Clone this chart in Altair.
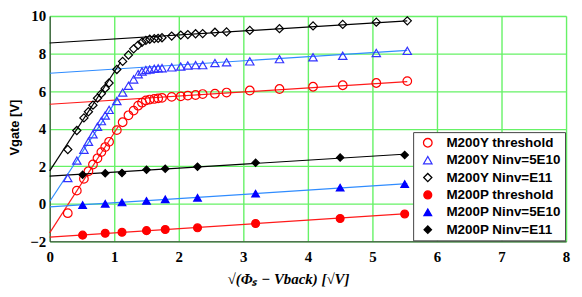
import altair as alt
import pandas as pd

# ---------------- data ----------------
series_names = [
    "M200Y threshold", "M200Y Ninv=5E10", "M200Y Ninv=E11",
    "M200P threshold", "M200P Ninv=5E10", "M200P Ninv=E11",
]

# M200Y (hollow markers) share the same x positions
y_x = [0.28, 0.42, 0.53, 0.60, 0.67, 0.74, 0.80, 0.86, 0.92, 1.04, 1.13,
       1.22, 1.30, 1.37, 1.43, 1.49, 1.55, 1.62, 1.68, 1.74, 1.89, 2.03,
       2.14, 2.26, 2.37, 2.56, 2.74, 3.10, 3.56, 4.08, 4.54, 5.06, 5.54]
y_thr = [-0.50, 0.70, 1.33, 1.73, 2.09, 2.42, 2.75, 3.02, 3.30, 3.92, 4.34,
         4.71, 4.96, 5.22, 5.38, 5.50, 5.55, 5.58, 5.61, 5.64, 5.69, 5.72,
         5.76, 5.79, 5.84, 5.86, 5.92, 6.03, 6.11, 6.23, 6.31, 6.43, 6.53]
y_5e10 = [1.37, 2.30, 2.88, 3.30, 3.70, 4.10, 4.40, 4.70, 5.00, 5.47, 5.92,
          6.28, 6.62, 6.90, 7.04, 7.12, 7.15, 7.19, 7.21, 7.22, 7.26, 7.31,
          7.36, 7.38, 7.38, 7.49, 7.53, 7.58, 7.70, 7.80, 7.88, 8.03, 8.14]
y_e11 = [2.89, 3.90, 4.57, 4.90, 5.25, 5.62, 5.86, 6.14, 6.43, 7.15, 7.58,
         7.92, 8.25, 8.45, 8.60, 8.70, 8.76, 8.79, 8.81, 8.84, 8.93, 8.98,
         9.01, 9.05, 9.06, 9.13, 9.15, 9.23, 9.32, 9.47, 9.55, 9.67, 9.74]

# M200P (filled markers)
p_x = [0.51, 0.86, 1.12, 1.50, 1.79, 2.29, 3.19, 4.50, 5.50]
p_thr = [-1.67, -1.57, -1.52, -1.43, -1.37, -1.28, -1.05, -0.78, -0.54]
p_5e10 = [-0.07, 0.00, 0.07, 0.15, 0.24, 0.32, 0.54, 0.86, 1.05]
p_e11 = [1.54, 1.62, 1.64, 1.81, 1.87, 1.97, 2.18, 2.46, 2.60]

# fitted straight lines (end points)
fit_group = ["thr", "thr", "thr", "5e10", "5e10", "5e10", "e11", "e11", "e11"]
fit_x0 = [0.0, 0.0, 0.0, 0.0, 0.0, 0.0, 0.0, 0.0, 0.0]
fit_y0 = [5.30, -1.55, -1.78, 6.95, 0.12, -0.17, 8.56, 1.75, 1.47]
fit_x1 = [5.54, 1.06, 5.54, 5.54, 1.06, 5.54, 5.54, 1.10, 5.54]
fit_y1 = [6.50, 4.10, -0.52, 8.17, 5.65, 1.07, 9.74, 7.55, 2.65]

x_ticks = [0, 1, 2, 3, 4, 5, 6, 7, 8]
y_ticks = [-2, 0, 2, 4, 6, 8, 10]

# ---------------- tables ----------------
rows = []
for name, ys in zip(series_names[:3], [y_thr, y_5e10, y_e11]):
    for xv, yv in zip(y_x, ys):
        rows.append({"series": name, "x": xv, "y": yv})
for name, ys in zip(series_names[3:], [p_thr, p_5e10, p_e11]):
    for xv, yv in zip(p_x, ys):
        rows.append({"series": name, "x": xv, "y": yv})
points = pd.DataFrame(rows)

fits = pd.DataFrame({"grp": fit_group, "x0": fit_x0, "y0": fit_y0,
                     "x1": fit_x1, "y1": fit_y1})

# ---------------- styling ----------------
stroke_range = ["#ff0000", "#3333ff", "#000000", "#ff0000", "#0000ff", "#000000"]
fill_range = ["transparent", "transparent", "transparent", "#ff0000", "#0000ff", "#000000"]
shape_range = ["circle", "triangle-up", "diamond", "circle", "triangle-up", "diamond"]
size_range = [75, 55, 42, 70, 55, 75]

legend = alt.Legend(
    title=None, orient="none", legendX=366, legendY=117,
    fillColor="white", strokeColor="#444444", padding=4,
    labelFont="Liberation Sans", labelFontWeight="bold", labelFontSize=13.5,
    labelColor="black", rowPadding=2.5, labelOffset=12, symbolStrokeWidth=1.3,
    symbolOffset=4,
)

GRID = "#66f266"

xaxis = alt.Axis(
    values=x_ticks, format="d", grid=True, gridColor=GRID, gridWidth=1.4,
    ticks=False, domainColor="#333333", labelOverlap=False,
    labelFont="Liberation Serif", labelFontWeight="bold", labelFontSize=15,
    labelColor="black", labelPadding=8, labelFlush=False,
    title="√(Φₛ − Vback) [√V]", titleFont="Liberation Serif",
    titleFontStyle="italic", titleFontWeight="bold", titleFontSize=15,
    titleColor="black", titleY=42, titleBaseline="alphabetic", titleX=240,
)
yaxis = alt.Axis(
    values=y_ticks, format="d", grid=True, gridColor=GRID, gridWidth=1.4,
    ticks=False, domainColor="#333333", labelOverlap=False,
    labelFont="Liberation Serif", labelFontWeight="bold", labelFontSize=15,
    labelColor="black", labelPadding=4, labelFlush=False,
    title="Vgate [V]", titleFont="Liberation Sans", titleFontWeight="bold",
    titleFontSize=13, titleColor="black", titleX=-28, titleY=112,
    titleAngle=-90, titleBaseline="bottom",
)

xs = alt.Scale(domain=[0, 8], nice=False)
ys = alt.Scale(domain=[-2, 10], nice=False)

lines = alt.Chart(fits).mark_rule(strokeWidth=1.2).encode(
    x=alt.X("x0:Q", scale=xs, axis=xaxis),
    y=alt.Y("y0:Q", scale=ys, axis=yaxis),
    x2="x1:Q",
    y2="y1:Q",
    color=alt.Color("grp:N", scale=alt.Scale(domain=["thr", "5e10", "e11"],
                                             range=["#ff1a1a", "#2f8cff", "#000000"]),
                    legend=None),
)

pts = alt.Chart(points).mark_point(strokeWidth=1.2, opacity=1).encode(
    x=alt.X("x:Q", scale=xs, axis=xaxis),
    y=alt.Y("y:Q", scale=ys, axis=yaxis),
    stroke=alt.Stroke("series:N", scale=alt.Scale(domain=series_names, range=stroke_range),
                      legend=legend, sort=series_names),
    fill=alt.Fill("series:N", scale=alt.Scale(domain=series_names, range=fill_range),
                  legend=legend, sort=series_names),
    shape=alt.Shape("series:N", scale=alt.Scale(domain=series_names, range=shape_range),
                    legend=legend, sort=series_names),
    size=alt.Size("series:N", scale=alt.Scale(domain=series_names, range=size_range),
                  legend=legend, sort=series_names),
)

chart = alt.layer(lines, pts).properties(
    width=520, height=227,
    autosize=alt.AutoSizeParams(type="none"),
    padding={"left": 42, "top": 7, "right": 8, "bottom": 47},
).configure_view(stroke="#333333", strokeWidth=1.2).configure(background="white")

chart.save("out.html", embed_options={"renderer": "svg", "actions": False})
